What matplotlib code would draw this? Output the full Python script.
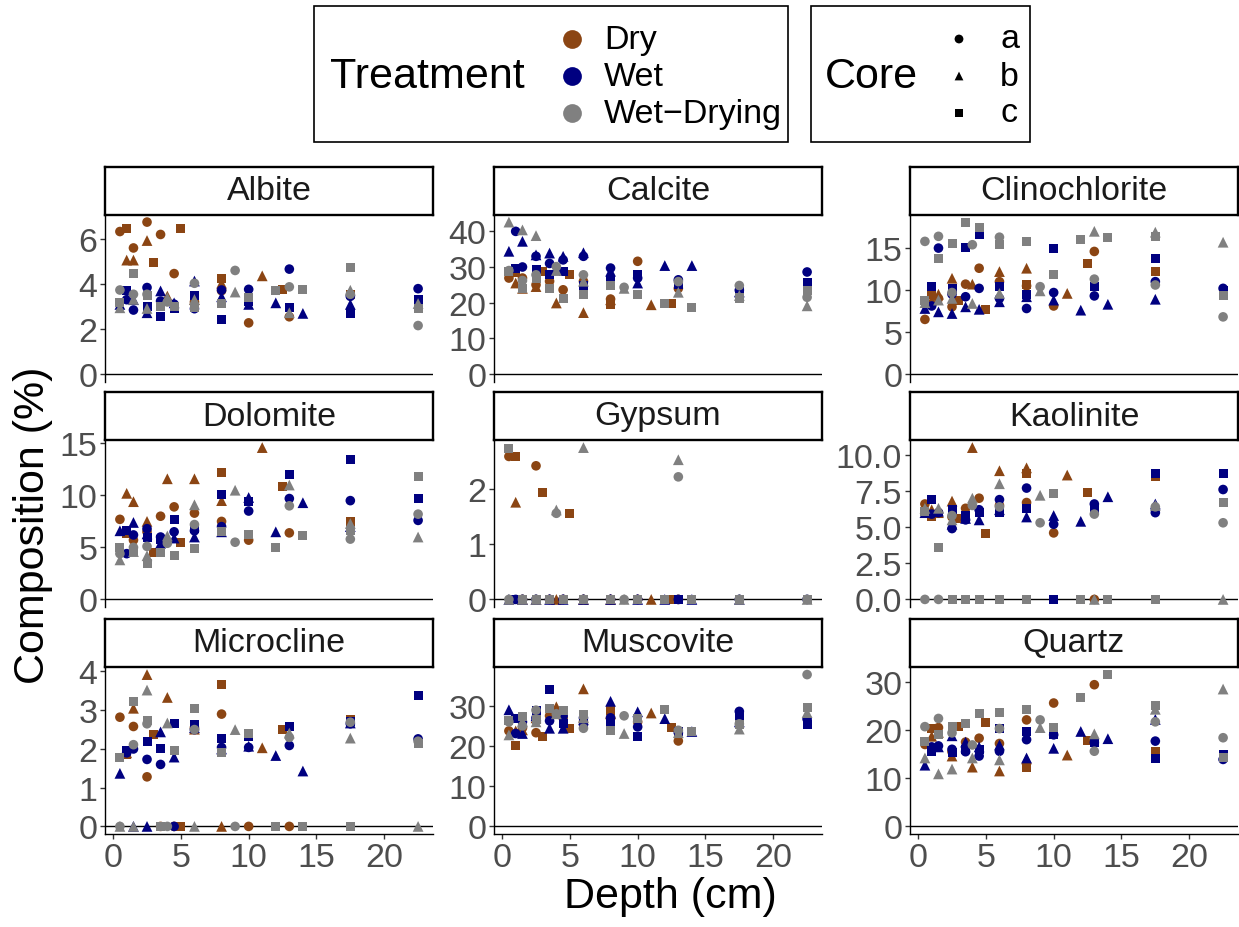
import matplotlib
matplotlib.use('Agg')
import matplotlib.pyplot as plt
import matplotlib.patches as patches

plt.rcParams['font.family'] = ['Liberation Sans', 'DejaVu Sans']

# sampling depths (cm) of each treatment/core combination
DEPTHS = {
    'Da': [0.5, 1.5, 2.5, 3.5, 4.5, 6, 8, 10, 13],
    'Db': [1, 1.5, 2.5, 4, 6, 8, 11],
    'Dc': [1, 3, 5, 8, 12.5, 17.5],
    'Wa': [1, 1.5, 2.5, 3.5, 4.5, 6, 8, 10, 13, 17.5, 22.5],
    'Wb': [0.5, 1.5, 2.5, 3.5, 4.5, 6, 8, 10, 12, 14, 17.5],
    'Wc': [1, 2.5, 3.5, 4.5, 6, 8, 10, 13, 17.5, 22.5],
    'Ga': [0.5, 1.5, 2.5, 4, 6, 9, 13, 17.5, 22.5],
    'Gb': [0.5, 1.5, 2.5, 4, 6, 9, 13, 17.5, 22.5],
    'Gc': [0.5, 1.5, 2.5, 3.5, 4.5, 6, 8, 10, 12, 14, 17.5, 22.5],
}

ALBITE = {
    'Da': [6.33, 5.6, 6.75, 6.2, 4.46, 3.2, 3.7, 2.27, 2.54],
    'Db': [5.06, 5.06, 5.93, 3.46, 3.3, 4.03, 4.36],
    'Dc': [6.45, 4.96, 6.48, 4.24, 3.76, 3.54],
    'Wa': [3.3, 2.84, 3.84, 3.24, 3.1, 2.9, 3.73, 3.76, 4.66, 3.45, 3.79],
    'Wb': [3.09, 3.3, 2.72, 3.69, 3.16, 4.13, 3.43, 3.09, 3.16, 2.69, 3.09],
    'Wc': [3.73, 3.01, 2.57, 2.91, 3.49, 2.42, 3.2, 2.94, 2.69, 3.31],
    'Ga': [3.73, 3.54, 3.54, 3.2, 4.03, 4.6, 3.87, 3.54, 2.15],
    'Gb': [2.94, 3.31, 2.91, 3.39, 3.31, 3.64, 2.72, 3.72, 3.13],
    'Gc': [3.16, 4.48, 3.49, 2.99, 2.99, 2.94, 3.12, 3.39, 3.72, 3.76, 4.73, 2.9],
}
CALCITE = {
    'Da': [26.9, 26.9, 25.0, 26.0, 23.6, 26.0, 21.0, 31.6, 24.0],
    'Db': [25.5, 24.0, 24.5, 19.9, 17.2, 20.8, 19.4],
    'Dc': [28.5, 28.6, 28.0, 19.6, 19.7, 22.0],
    'Wa': [40.0, 30.0, 33.0, 31.0, 32.0, 33.0, 29.7, 26.9, 26.4, 23.5, 28.6],
    'Wb': [34.4, 37.2, 33.4, 33.9, 33.0, 34.0, 28.8, 25.5, 30.4, 30.4, 23.0],
    'Wc': [29.7, 29.2, 27.8, 28.6, 24.7, 26.4, 27.8, 25.2, 23.0, 25.7],
    'Ga': [29.0, 26.2, 27.8, 30.1, 27.8, 24.3, 25.9, 24.8, 21.5],
    'Gb': [42.6, 40.4, 38.8, 29.0, 26.0, 24.0, 22.9, 22.0, 19.1],
    'Gc': [28.7, 23.9, 26.9, 23.9, 21.1, 22.4, 24.7, 22.2, 19.7, 18.7, 21.3, 23.4],
}
CLINOCHLORITE = {
    'Da': [6.5, 9.0, 8.0, 10.7, 12.6, 11.0, 10.5, 8.1, 14.6],
    'Db': [8.8, 9.5, 11.4, 10.7, 12.2, 12.6, 9.6],
    'Dc': [9.5, 8.8, 7.7, 10.7, 13.2, 12.2],
    'Wa': [8.1, 15.0, 9.5, 9.2, 10.2, 9.0, 7.8, 9.7, 9.3, 11.0, 10.2],
    'Wb': [7.8, 7.4, 7.2, 8.0, 7.7, 8.6, 9.2, 8.8, 7.6, 8.3, 8.9],
    'Wc': [10.4, 10.2, 15.1, 16.6, 10.4, 9.5, 15.0, 10.4, 13.7, 10.0],
    'Ga': [15.8, 16.4, 9.7, 15.4, 16.3, 10.4, 11.3, 10.6, 6.8],
    'Gb': [8.5, 8.8, 9.0, 8.4, 9.6, 9.9, 17.0, 16.9, 15.7],
    'Gc': [8.8, 13.8, 15.6, 18.1, 17.4, 15.4, 15.8, 11.8, 16.0, 16.3, 16.4, 9.4],
}
DOLOMITE = {
    'Da': [7.7, 5.7, 6.5, 8.0, 8.9, 8.3, 7.5, 5.7, 6.4],
    'Db': [10.2, 9.4, 7.5, 11.6, 11.6, 9.5, 14.6],
    'Dc': [6.3, 4.5, 5.5, 12.2, 10.9, 7.5],
    'Wa': [4.4, 6.2, 6.8, 6.0, 6.5, 6.6, 7.0, 8.5, 9.7, 9.5, 7.6],
    'Wb': [6.6, 7.4, 6.3, 5.4, 5.9, 6.0, 6.5, 9.8, 6.5, 9.3, 7.0],
    'Wc': [6.6, 6.0, 5.8, 7.7, 6.8, 10.1, 9.4, 12.0, 13.5, 9.7],
    'Ga': [4.4, 5.0, 5.1, 5.4, 7.2, 5.5, 9.0, 5.8, 8.2],
    'Gb': [3.8, 4.6, 4.2, 6.1, 9.1, 10.5, 11.0, 7.3, 6.0],
    'Gc': [5.0, 4.7, 3.5, 4.5, 4.2, 4.9, 6.5, 6.2, 5.0, 6.1, 6.6, 11.8],
}
GYPSUM = {
    'Da': [2.59, 0, 2.42, 0, 0, 0, 0, 0, 0],
    'Db': [1.76, 0, 0, 0, 0, 0, 0],
    'Dc': [2.58, 1.94, 1.56, 0, 0, 0],
    'Wa': [0, 0, 0, 0, 0, 0, 0, 0, 0, 0, 0],
    'Wb': [0, 0, 0, 0, 0, 0, 0, 0, 0, 0, 0],
    'Wc': [0, 0, 0, 0, 0, 0, 0, 0, 0, 0],
    'Ga': [0, 0, 0, 1.56, 0, 0, 2.22, 0, 0],
    'Gb': [0, 0, 0, 1.62, 2.75, 0, 2.53, 0, 0],
    'Gc': [2.73, 0, 0, 0, 0, 0, 0, 0, 0, 0, 0, 0],
}
KAOLINITE = {
    'Da': [6.6, 6.0, 5.7, 6.3, 7.0, 6.5, 6.7, 4.6, 0],
    'Db': [6.2, 6.0, 6.8, 10.5, 8.9, 9.1, 8.6],
    'Dc': [5.7, 5.6, 4.55, 8.7, 7.4, 8.5],
    'Wa': [5.9, 6.0, 4.9, 5.5, 6.2, 6.9, 7.7, 5.2, 6.6, 6.0, 7.6],
    'Wb': [6.0, 6.1, 5.2, 5.6, 5.5, 6.2, 5.7, 5.8, 5.4, 7.1, 6.6],
    'Wc': [6.9, 6.2, 5.8, 6.0, 6.0, 6.3, 0, 6.3, 8.7, 8.7],
    'Ga': [0, 0, 5.8, 6.5, 6.4, 5.3, 5.9, 6.4, 5.3],
    'Gb': [6.3, 6.3, 5.5, 7.0, 8.0, 7.2, 0, 6.5, 0],
    'Gc': [6.1, 3.6, 0, 0, 0, 0, 0, 7.3, 0, 0, 0, 6.7],
}
MICROCLINE = {
    'Da': [2.82, 2.58, 1.28, 0, 0, 2.55, 2.9, 0, 0],
    'Db': [1.9, 3.05, 3.92, 3.33, 2.51, 0, 2.03],
    'Dc': [1.85, 2.37, 0, 3.67, 2.51, 2.75],
    'Wa': [1.9, 2.0, 1.73, 1.6, 0, 2.5, 2.04, 2.04, 2.09, 2.65, 2.26],
    'Wb': [1.37, 0, 0, 2.44, 1.79, 2.55, 2.0, 2.07, 1.83, 1.43, 2.67],
    'Wc': [1.96, 2.2, 2.0, 2.67, 2.62, 2.28, 2.32, 2.58, 2.7, 3.38],
    'Ga': [0, 2.11, 2.65, 0, 2.5, 0, 2.3, 2.69, 2.2],
    'Gb': [0, 0, 3.52, 2.67, 0, 2.5, 2.41, 2.28, 0],
    'Gc': [1.79, 3.22, 2.73, 0, 1.96, 3.05, 1.9, 2.41, 0, 0, 0, 2.15],
}
MUSCOVITE = {
    'Da': [23.75, 24.5, 23.3, 27.5, 27.0, 26.0, 27.0, 26.0, 21.25],
    'Db': [23.75, 24.0, 27.0, 29.75, 34.2, 28.0, 28.2],
    'Dc': [20.0, 22.25, 24.4, 28.75, 24.6, 27.5],
    'Wa': [23.1, 26.0, 27.0, 26.25, 27.5, 27.0, 27.0, 24.75, 23.3, 28.6, 26.7],
    'Wb': [29.0, 23.1, 27.5, 24.4, 24.4, 26.5, 31.1, 28.5, 26.8, 23.6, 26.0],
    'Wc': [26.8, 28.75, 34.0, 25.6, 25.8, 25.6, 22.25, 23.5, 27.0, 25.4],
    'Ga': [26.0, 25.0, 28.9, 28.0, 24.4, 27.5, 23.9, 25.5, 37.75],
    'Gb': [22.75, 26.0, 26.0, 28.0, 27.0, 23.1, 23.3, 24.2, 28.3],
    'Gc': [26.4, 27.25, 26.7, 29.2, 28.9, 27.75, 23.75, 26.8, 29.0, 23.6, 25.4, 29.6],
}
QUARTZ = {
    'Da': [17.0, 20.5, 15.5, 17.5, 18.3, 17.2, 22.1, 25.6, 29.4],
    'Db': [18.7, 19.5, 14.6, 12.3, 11.5, 14.0, 14.8],
    'Dc': [20.3, 20.8, 21.5, 12.3, 17.8, 15.5],
    'Wa': [16.5, 16.7, 16.0, 15.5, 14.6, 15.6, 18.0, 19.0, 17.4, 17.7, 13.9],
    'Wb': [12.7, 16.5, 18.8, 17.5, 16.5, 16.9, 14.2, 16.2, 19.7, 18.2, 22.2],
    'Wc': [15.6, 15.3, 16.0, 16.0, 20.3, 19.7, 19.1, 17.4, 14.1, 14.9],
    'Ga': [20.7, 22.4, 19.4, 16.9, 20.3, 22.1, 15.6, 21.7, 18.4],
    'Gb': [14.2, 10.9, 11.9, 14.2, 13.8, 20.5, 19.2, 24.3, 28.5],
    'Gc': [17.6, 19.1, 20.8, 21.3, 23.4, 23.6, 24.2, 20.5, 26.7, 31.5, 25.0, 14.2],
}

MINERALS = ['Albite', 'Calcite', 'Clinochlorite', 'Dolomite', 'Gypsum',
            'Kaolinite', 'Microcline', 'Muscovite', 'Quartz']
PANEL_DATA = [ALBITE, CALCITE, CLINOCHLORITE, DOLOMITE, GYPSUM,
              KAOLINITE, MICROCLINE, MUSCOVITE, QUARTZ]
Y_TICKS = [[0, 2, 4, 6], [0, 10, 20, 30, 40], [0, 5, 10, 15],
           [0, 5, 10, 15], [0, 1, 2], [0, 2.5, 5, 7.5, 10],
           [0, 1, 2, 3, 4], [0, 10, 20, 30], [0, 10, 20, 30]]
X_TICKS = [0, 5, 10, 15, 20]

TREATMENTS = ['Dry', 'Wet', 'Wet\u2212Drying']
T_CODES = ['D', 'W', 'G']
COLORS = {'D': '#8B4513', 'W': '#000080', 'G': '#808080'}
CORES = ['a', 'b', 'c']
MARKERS = {'a': 'o', 'b': '^', 'c': 's'}
SIZES = {'a': 48, 'b': 60, 'c': 42}

W, H = 1239, 928
fig = plt.figure(figsize=(W / 100, H / 100), dpi=100)
fig.patch.set_facecolor('white')

COL_L = [105, 494, 910]
PANEL_W = 328
ROW_T = [215.5, 441, 668]
PANEL_H = 167
STRIP_H = 48

TICK_FS = 24.5
GREY_TXT = '#4D4D4D'

for i, (name, data) in enumerate(zip(MINERALS, PANEL_DATA)):
    r, c = divmod(i, 3)
    l, t = COL_L[c], ROW_T[r]
    ax = fig.add_axes([l / W, 1 - (t + PANEL_H) / H, PANEL_W / W, PANEL_H / H])

    ymax = 0
    for tc in T_CODES:
        for core in CORES:
            key = tc + core
            ys = data[key]
            ymax = max(ymax, max(ys))
            ax.scatter(DEPTHS[key], ys, marker=MARKERS[core], s=SIZES[core],
                       color=COLORS[tc], edgecolors='none', zorder=3)
    ax.axhline(0, color='black', lw=1.0, zorder=2)

    pad_y = 0.05 * ymax
    ax.set_ylim(-pad_y, ymax + pad_y)
    ax.set_xlim(0.5 - 0.05 * 22, 22.5 + 0.05 * 22)
    ax.set_yticks(Y_TICKS[i])
    if name == 'Kaolinite':
        ax.set_yticklabels(['0.0', '2.5', '5.0', '7.5', '10.0'])
    ax.set_xticks(X_TICKS)

    for s in ['top', 'right']:
        ax.spines[s].set_visible(False)
    ax.spines['left'].set_linewidth(1.0)
    ax.tick_params(axis='y', length=3.6, width=1.0, color='#333333',
                   labelsize=TICK_FS, labelcolor=GREY_TXT, pad=2)
    if r == 2:
        ax.spines['bottom'].set_linewidth(1.0)
        ax.tick_params(axis='x', length=3.6, width=1.0, color='#333333',
                       labelsize=TICK_FS, labelcolor=GREY_TXT, pad=2)
    else:
        ax.spines['bottom'].set_visible(False)
        ax.tick_params(axis='x', length=0, labelbottom=False)

    # facet strip
    sax = fig.add_axes([l / W, 1 - t / H, PANEL_W / W, STRIP_H / H])
    sax.set_xticks([])
    sax.set_yticks([])
    for s in sax.spines.values():
        s.set_linewidth(1.7)
    sax.text(0.5, 0.5, name, ha='center', va='center', fontsize=TICK_FS,
             color='#1A1A1A', transform=sax.transAxes)

# overlay for axis titles and legends (pixel coordinates)
ov = fig.add_axes([0, 0, 1, 1])
ov.set_xlim(0, W)
ov.set_ylim(H, 0)
ov.axis('off')
ov.patch.set_alpha(0)

ov.text(33, 525, 'Composition (%)', rotation=90, ha='center', va='center',
        fontsize=31)
ov.text(670, 897, 'Depth (cm)', ha='center', va='center', fontsize=31)

# Treatment legend
ov.add_patch(patches.Rectangle((314, 7), 474, 136, fill=False, lw=1.2,
                               edgecolor='black'))
ov.text(330, 77, 'Treatment', ha='left', va='center', fontsize=31)
for k, (lab, tc) in enumerate(zip(TREATMENTS, T_CODES)):
    yk = 40 + 37 * k
    ov.plot(572, yk, 'o', ms=13.5, color=COLORS[tc], mec='none')
    ov.text(604, yk, lab, ha='left', va='center', fontsize=TICK_FS)

# Core legend
ov.add_patch(patches.Rectangle((811, 7), 219, 136, fill=False, lw=1.2,
                               edgecolor='black'))
ov.text(825, 77, 'Core', ha='left', va='center', fontsize=31)
for k, core in enumerate(CORES):
    yk = 40 + 37 * k
    ov.scatter(959, yk, marker=MARKERS[core], s=40, color='black',
               edgecolors='none')
    ov.text(1000, yk, core, ha='left', va='center', fontsize=TICK_FS)

fig.savefig('out.png', dpi=100, facecolor='white')
